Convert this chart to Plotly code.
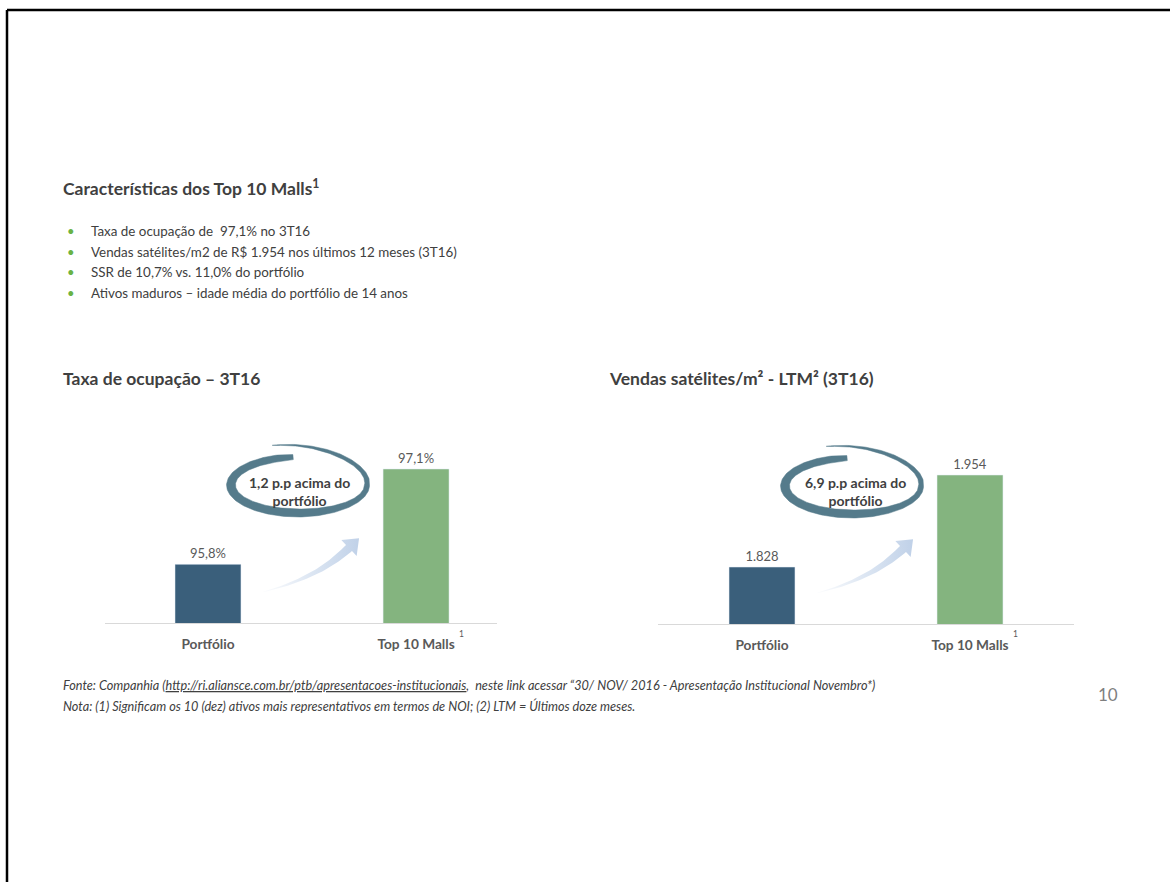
import numpy as np
import plotly.graph_objects as go

# ---------------- data ----------------
categories = ["Portfólio", "Top 10 Malls"]
ocupacao = [95.8, 97.1]
ocupacao_labels = ["95,8%", "97,1%"]
vendas = [1828, 1954]
vendas_labels = ["1.828", "1.954"]
bar_colors = ["#3a5f7b", "#84b47f"]

title_main = "<b>Características dos Top 10 Malls<sup>1</sup></b>"
bullets = [
    "Taxa de ocupação de  97,1% no 3T16",
    "Vendas satélites/m2 de R$ 1.954 nos últimos 12 meses (3T16)",
    "SSR de 10,7% vs. 11,0% do portfólio",
    "Ativos maduros – idade média do portfólio de 14 anos",
]
chart1_title = "<b>Taxa de ocupação – 3T16</b>"
chart2_title = "<b>Vendas satélites/m² - LTM² (3T16)</b>"
callout1 = "<b>1,2 p.p acima do<br>portfólio</b>"
callout2 = "<b>6,9 p.p acima do<br>portfólio</b>"
fonte = ("<i>Fonte: Companhia (<u>http://ri.aliansce.com.br/ptb/apresentacoes-institucionais</u>,  neste link acessar "
         "“30/ NOV/ 2016 - Apresentação Institucional Novembro*)</i>")
nota = ("<i>Nota: (1) Significam os 10 (dez) ativos mais representativos em termos de NOI; "
        "(2) LTM = Últimos doze meses.</i>")
page_no = "10"

W, H = 1170, 882
FONT = "Lato"
TXT = "#404040"


def px(x):
    return x / W


def py(y):
    return 1 - y / H


fig = go.Figure()

fig.add_trace(go.Bar(
    x=[0, 1], y=ocupacao, marker_color=bar_colors, width=0.317,
    text=ocupacao_labels, textposition="outside", cliponaxis=False,
    textfont=dict(family=FONT, size=13, color="#595959"),
    xaxis="x", yaxis="y", showlegend=False, hoverinfo="skip"))
fig.add_trace(go.Bar(
    x=[0, 1], y=vendas, marker_color=bar_colors, width=0.317,
    text=vendas_labels, textposition="outside", cliponaxis=False,
    textfont=dict(family=FONT, size=13, color="#595959"),
    xaxis="x2", yaxis="y2", showlegend=False, hoverinfo="skip"))


# ---------------- decorations (pixel overlay axes) ----------------
def swoosh(dx, dy):
    t = np.radians(np.linspace(95, 470, 240))
    td = np.degrees(t)
    sx = np.interp(td, [95, 360, 470], [1, 1, 1.15])
    sy = np.interp(td, [95, 360, 470], [1, 1, 1.5])
    w = np.interp(td, [95, 110, 180, 270, 360, 420, 470], [5, 7, 9, 8, 5, 3.5, 0.4])
    rx, ry = 68, 28
    cx, cy = 299 + dx, 485 + dy
    xo = cx + (rx * sx + w / 2) * np.cos(t)
    yo = cy - (ry * sy + w / 2) * np.sin(t)
    xi = cx + (rx * sx - w / 2) * np.cos(t)
    yi = cy - (ry * sy - w / 2) * np.sin(t)
    xs = np.concatenate([xo, xi[::-1], xo[:1]])
    ys = np.concatenate([yo, yi[::-1], yo[:1]])
    return xs, ys


def arrow(dx, dy):
    P0 = np.array([263 + dx, 592 + dy])
    P1 = np.array([318 + dx, 578 + dy])
    P2 = np.array([349 + dx, 548 + dy])
    t = np.linspace(0, 1, 50)[:, None]
    B = (1 - t) ** 2 * P0 + 2 * (1 - t) * t * P1 + t ** 2 * P2
    D = 2 * (1 - t) * (P1 - P0) + 2 * t * (P2 - P1)
    D = D / np.linalg.norm(D, axis=1)[:, None]
    N = np.column_stack([D[:, 1], -D[:, 0]])
    hw = (0.3 + 4.0 * t[:, 0] ** 1.1)[:, None]
    up = B + N * hw
    lo = B - N * hw
    d_end = D[-1]
    n_end = N[-1]
    tip = P2 + d_end * 14
    b1 = P2 + n_end * 11
    b2 = P2 - n_end * 11
    pts = np.vstack([up, b1[None], tip[None], b2[None], lo[::-1]])
    return pts[:, 0], pts[:, 1]


for dx, dy in [(0, 0), (554, 1)]:
    ax_, ay_ = arrow(dx, dy)
    fig.add_trace(go.Scatter(
        x=ax_, y=ay_, mode="lines", fill="toself", line=dict(width=0),
        fillgradient=dict(type="horizontal",
                          colorscale=[[0, "rgba(200,214,234,0.05)"],
                                      [0.5, "rgba(197,213,234,0.6)"],
                                      [1, "rgba(192,209,232,1)"]]),
        xaxis="x3", yaxis="y3", showlegend=False, hoverinfo="skip"))
    sx_, sy_ = swoosh(dx, dy)
    fig.add_trace(go.Scatter(
        x=sx_, y=sy_, mode="lines", fill="toself", fillcolor="#557b8b",
        line=dict(width=0.5, color="#557b8b"),
        xaxis="x3", yaxis="y3", showlegend=False, hoverinfo="skip"))

# ---------------- layout ----------------
axis_common = dict(showgrid=False, zeroline=False, showline=True, linecolor="#d9d9d9",
                   linewidth=1, ticks="", tickmode="array", tickvals=[0, 1],
                   ticklabelstandoff=9,
                   tickfont=dict(family=FONT, size=13.7, color="#595959"), fixedrange=True)
fig.update_layout(
    width=W, height=H, margin=dict(l=0, r=0, t=0, b=0),
    paper_bgcolor="white", plot_bgcolor="rgba(0,0,0,0)",
    xaxis=dict(domain=[px(105), px(497)], range=[-0.495, 1.389], anchor="y",
               ticktext=["<b>%s</b>" % c for c in categories], **axis_common),
    yaxis=dict(domain=[py(623), py(420)], range=[95.0, 97.768], anchor="x",
               visible=False, fixedrange=True),
    xaxis2=dict(domain=[px(658), px(1074)], range=[-0.5, 1.5], anchor="y2",
                ticktext=["<b>%s</b>" % c for c in categories], **axis_common),
    yaxis2=dict(domain=[py(624), py(420)], range=[1750, 2029.4], anchor="x2",
                visible=False, fixedrange=True),
    xaxis3=dict(domain=[0, 1], range=[0, W], anchor="y3", visible=False, fixedrange=True),
    yaxis3=dict(domain=[0, 1], range=[H, 0], anchor="x3", visible=False, fixedrange=True),
    font=dict(family=FONT, color=TXT),
)

ann = []


def text(x, y, s, size, color=TXT, xanchor="left", family=FONT):
    ann.append(dict(x=px(x), y=py(y), xref="paper", yref="paper", text=s, showarrow=False,
                    xanchor=xanchor, yanchor="middle", align="center" if xanchor == "center" else "left",
                    font=dict(family=family, size=size, color=color)))


text(61, 188, title_main, 17.5)
for i, b in enumerate(bullets):
    yy = 231 + i * 20.5
    text(65, yy, "•", 13, color="#6ab344")
    text(89, yy, b, 13.4)
text(61, 378, chart1_title, 17.5)
text(607, 378, chart2_title, 17.5)
text(299, 491, callout1, 14, xanchor="center")
text(855, 492, callout2, 14, xanchor="center")
text(461, 634, "1", 8.5, color="#595959", xanchor="center")
text(1015, 634, "1", 8.5, color="#595959", xanchor="center")
text(61, 685, fonte, 12.7)
text(61, 706, nota, 12.7)
text(1108, 694, page_no, 17, color="#7f7f7f", xanchor="center")
fig.update_layout(annotations=ann)

# frame lines (top and left)
fig.update_layout(shapes=[
    dict(type="line", xref="paper", yref="paper", x0=px(7), x1=1, y0=py(10), y1=py(10),
         line=dict(color="black", width=2.5)),
    dict(type="line", xref="paper", yref="paper", x0=px(7), x1=px(7), y0=py(10), y1=0,
         line=dict(color="black", width=2.5)),
])

fig.write_html("out.html")
